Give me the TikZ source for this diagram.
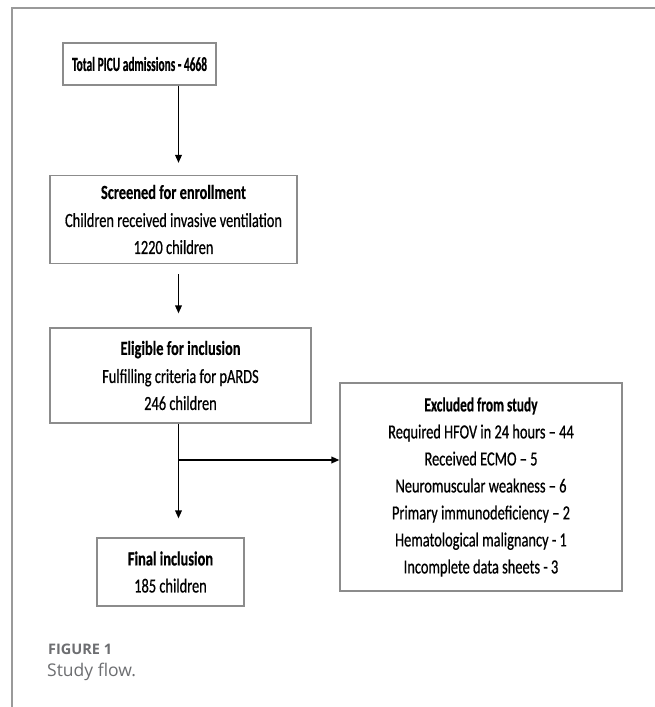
\documentclass[tikz,border=0pt]{standalone}
\usepackage{fontspec}
\usetikzlibrary{arrows.meta}
\newfontfamily\diagfont[FakeStretch=0.72, UprightFeatures={FakeBold=0.6}, BoldFeatures={FakeBold=0.4}]{Carlito}
\newfontfamily\diagtight[FakeStretch=0.57, BoldFeatures={FakeBold=0.4}]{Carlito}
\newfontfamily\capfont{Open Sans}
\definecolor{framegray}{HTML}{9A9A9A}
\definecolor{boxgray}{HTML}{8C8C8C}
\definecolor{capgray}{HTML}{6D6E71}
\begin{document}
\begin{tikzpicture}[x=1pt,y=-1pt,
  flowbox/.style={draw=boxgray, line width=1.1pt, fill=white, inner sep=0pt, align=center,
    font=\diagfont\fontsize{20}{27}\selectfont},
  flowarrow/.style={draw=black, line width=1.7pt, -{Triangle[length=8pt,width=6.5pt]}},
  flowline/.style={draw=black, line width=1.7pt}]
\useasboundingbox (0,0) rectangle (655,707);
\fill[white] (0,0) rectangle (655,707);
% outer frame
\draw[framegray, line width=1.3pt] (12,707) -- (12,8) -- (655,8);

\node[flowbox, minimum width=153pt, minimum height=42pt, font=\diagtight\fontsize{20}{27}\selectfont]
  (b1) at (139.5,64) {\bfseries Total PICU admissions - 4668};
\node[flowbox, minimum width=247pt, minimum height=88pt] (b2) at (173.5,219.5)
  {\bfseries Screened for enrollment\\[1pt] Children received invasive ventilation\\ 1220 children};
\node[flowbox, minimum width=261pt, minimum height=95pt] (b3) at (180.5,375.5)
  {\bfseries Eligible for inclusion\\[1pt] Fulfilling criteria for pARDS\\ 246 children};
\node[flowbox, minimum width=282pt, minimum height=208pt] (b4) at (481,487)
  {\scalebox{0.93}[1]{\bfseries Excluded from study}\\ Required HFOV in 24 hours – 44\\ Received ECMO – 5\\
   Neuromuscular weakness – 6\\ Primary immunodeficiency – 2\\ Hematological malignancy - 1\\
   Incomplete data sheets - 3};
\node[flowbox, minimum width=147pt, minimum height=68pt] (b5) at (170.5,572)
  {\bfseries Final inclusion\\ 185 children};

\coordinate (spine) at (178.5,0);
\coordinate (branch) at (178.5,460);

\draw[flowarrow, shorten >=12pt] (b1.south -| spine) -- (b2.north -| spine);
\draw[flowarrow, shorten <=10pt, shorten >=14pt] (b2.south -| spine) -- (b3.north -| spine);
\draw[flowarrow, shorten >=19pt] (b3.south -| spine) -- (b5.north -| spine);
\draw[flowarrow] (branch) -- (branch -| b4.west);

\node[anchor=base west, inner sep=0pt, text=capgray, font=\capfont\bfseries\fontsize{14.5}{17}\selectfont]
  (figlab) at (48,654) {FIGURE 1};
\node[anchor=base west, inner sep=0pt, text=capgray, font=\capfont\fontsize{17.5}{20}\selectfont]
  (figcap) at (47,676) {Study flow.};
\end{tikzpicture}
\end{document}
